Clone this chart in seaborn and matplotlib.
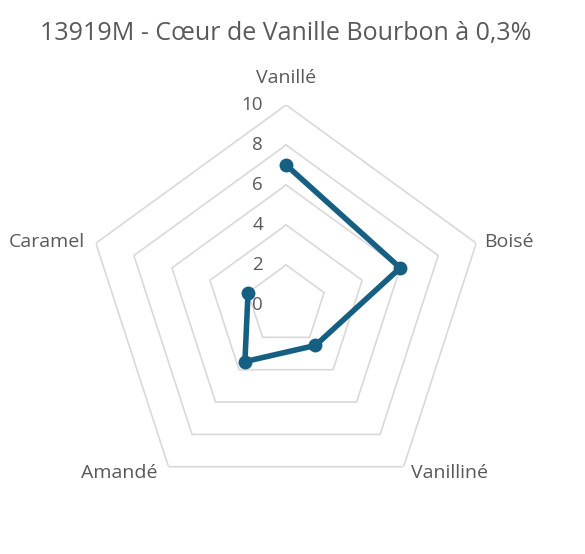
import numpy as np
import pandas as pd
import matplotlib
matplotlib.use("Agg")
import matplotlib.pyplot as plt
import matplotlib.transforms as mtrans
import seaborn as sns

categories = ["Vanillé", "Boisé", "Vanilliné", "Amandé", "Caramel"]
values = [7, 6, 2.5, 3.5, 2]
ring_levels = [0, 2, 4, 6, 8, 10]
title = "13919M - Cœur de Vanille Bourbon à 0,3%"

sns.set_theme(style="white")
plt.rcParams['font.family'] = ['Open Sans', 'DejaVu Sans']

LINE = "#156082"
GRID = "#D9D9D9"
TXT = "#595959"

fig = plt.figure(figsize=(5.85, 5.54), dpi=100)
ax = fig.add_axes([0.147, 0.0885, 0.684, 0.722], projection="polar")
ax.set_theta_zero_location("N")
ax.set_theta_direction(-1)
ax.set_ylim(0, 10)
ax.set_xticks([])
ax.set_yticks([])
ax.grid(False)
ax.spines["polar"].set_visible(False)
ax.set_facecolor("none")

n = len(categories)
angles = np.arange(n) * 2 * np.pi / n

# pentagon grid
for lv in ring_levels[1:]:
    a = np.append(angles, angles[0])
    ax.plot(a, [lv] * len(a), color=GRID, lw=1.2, zorder=1)

df = pd.DataFrame({
    "angle": np.append(angles, angles[0]),
    "value": values + [values[0]],
})
sns.lineplot(data=df, x="angle", y="value", sort=False, ax=ax, color=LINE,
             lw=4, marker="o", markersize=10, markeredgewidth=0, zorder=3)
ax.set_xlabel("")
ax.set_ylabel("")
ax.set_xticks([])
ax.set_yticks([])

# ring labels
off = mtrans.ScaledTranslation(-0.23, 0, fig.dpi_scale_trans)
for lv in ring_levels:
    ax.text(0, lv, str(lv), transform=ax.transData + off, ha="right",
            va="center", fontsize=13.5, color=TXT, zorder=2)

# category labels (pixel offsets from the outer vertex)
cat_pos = [
    (0, 27, "center"),
    (8, 1, "left"),
    (7, -6, "left"),
    (-11, -6, "right"),
    (-11, 1, "right"),
]
for a, (dx, dy, ha), lab in zip(angles, cat_pos, categories):
    o = mtrans.ScaledTranslation(dx / 100, dy / 100, fig.dpi_scale_trans)
    ax.text(a, 10, lab, transform=ax.transData + o, ha=ha, va="center",
            fontsize=14, color=TXT)

fig.text(0.489, 0.94, title, ha="center", va="center", fontsize=18, color=TXT)

fig.savefig("out.png", dpi=100)
